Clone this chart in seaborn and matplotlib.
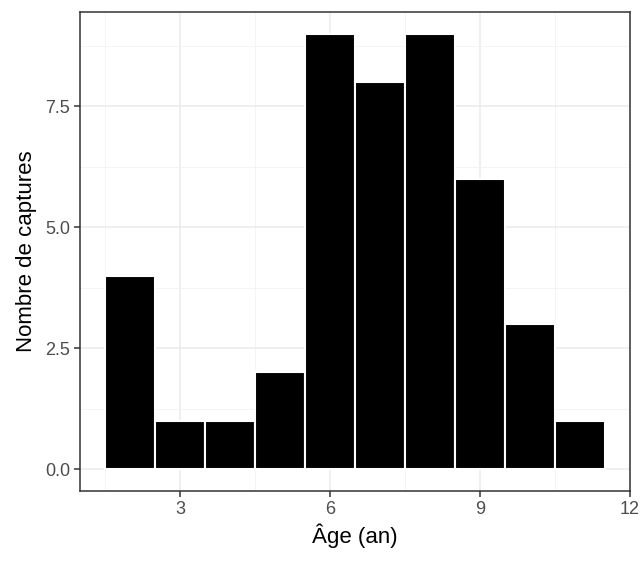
import numpy as np
import pandas as pd
import matplotlib
matplotlib.use("Agg")
import matplotlib.pyplot as plt
import seaborn as sns

# Ages and number of captures
ages = [2, 3, 4, 5, 6, 7, 8, 9, 10, 11]
counts = [4, 1, 1, 2, 9, 8, 9, 6, 3, 1]
x_ticks = [3, 6, 9, 12]
y_ticks = [0.0, 2.5, 5.0, 7.5]

captures = pd.DataFrame({"age": np.repeat(ages, counts)})

sns.set_theme(style="white")
plt.rcParams["font.family"] = ["Liberation Sans", "DejaVu Sans"]

fig = plt.figure(figsize=(6.44, 5.63), dpi=100)
ax = fig.add_axes([80 / 644, (563 - 491) / 563, 550 / 644, 479 / 563])

sns.histplot(
    data=captures, x="age", discrete=True, color="black",
    edgecolor="white", linewidth=1.5, alpha=1, ax=ax, zorder=3
)

ax.set_xlim(1.0, 12.0)
ax.set_ylim(-0.45, 9.45)
ax.set_xticks(x_ticks)
ax.set_xticklabels([str(t) for t in x_ticks])
ax.set_yticks(y_ticks)
ax.set_yticklabels([f"{t:.1f}" for t in y_ticks])
ax.set_xticks([1.5, 4.5, 7.5, 10.5], minor=True)
ax.set_yticks([1.25, 3.75, 6.25, 8.75], minor=True)

ax.grid(which="major", color="#ebebeb", linewidth=1.1, zorder=0)
ax.grid(which="minor", color="#f3f3f3", linewidth=0.6, zorder=0)
ax.set_axisbelow(True)

for s in ax.spines.values():
    s.set_color("#333333")
    s.set_linewidth(1.1)

ax.tick_params(which="major", length=4, width=1.1, color="#333333",
               labelsize=13, labelcolor="#4d4d4d", pad=3,
               bottom=True, left=True)
ax.tick_params(which="minor", length=0)

ax.set_xlabel("Âge (an)", fontsize=16, color="black", labelpad=4)
ax.set_ylabel("Nombre de captures", fontsize=16, color="black", labelpad=6)

fig.savefig("out.png", dpi=100)
